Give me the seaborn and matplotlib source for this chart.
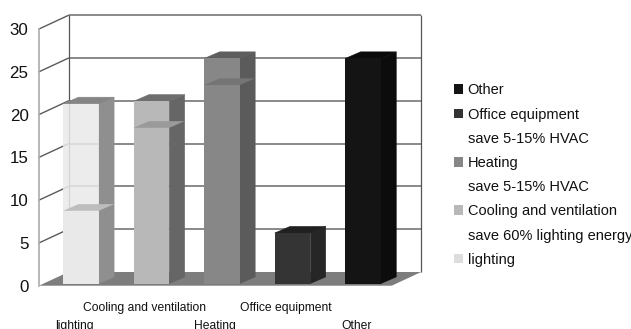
import matplotlib
matplotlib.use("Agg")
import matplotlib.pyplot as plt
import seaborn as sns
from matplotlib.patches import Patch, Polygon
from matplotlib.transforms import IdentityTransform, ScaledTranslation

# Energy end uses: bar totals and the lower level inside each bar
categories = ["lighting", "Cooling and ventilation", "Heating", "Office equipment", "Other"]
totals = [21.0, 21.3, 26.3, 5.9, 26.3]
lower_levels = [8.5, 18.2, 23.2, None, None]
value_ticks = [0, 5, 10, 15, 20, 25, 30]

# Greys for each face of the bars
front_colors = ["#e9e9e9", "#b8b8b8", "#878787", "#343434", "#141414"]
side_colors = ["#8f8f8f", "#666666", "#5b5b5b", "#262626", "#0c0c0c"]
top_colors = ["#858585", "#6e6e6e", "#5e5e5e", "#202020", "#0b0b0b"]
shelf_colors = ["#bdbdbd", "#9a9a9a", "#757575", None, None]

legend_labels = ["Other", "Office equipment", "save 5-15% HVAC", "Heating", "save 5-15% HVAC",
                 "Cooling and ventilation", "save 60% lighting energy", "lighting"]
legend_colors = ["#141414", "#343434", "#ffffff", "#878787", "#ffffff",
                 "#b8b8b8", "#ffffff", "#dddddd"]

W, H = 631, 329
WALL_DX, WALL_DY = 29.5, 13.7      # depth of the chart box, px
BAR_DX, BAR_DY = 15.3, 6.6         # depth of a bar, px
BAR_SHIFT = (6.7, 2.2)             # bars stand slightly inside the floor, px

sns.set_style("white")
plt.rcParams["font.family"] = ["Liberation Sans", "DejaVu Sans"]

fig = plt.figure(figsize=(W / 100, H / 100), dpi=100)
ax = fig.add_axes([39 / W, (H - 285.7) / H, 352.7 / W, 256.7 / H])


def shifted(dx, dy):
    return ax.transData + ScaledTranslation(dx / 100, dy / 100, fig.dpi_scale_trans)


sns.barplot(x=categories, y=totals, hue=categories, palette=front_colors, order=categories,
            hue_order=categories, width=0.505, legend=False, saturation=1, ax=ax)
upper_bars = list(ax.patches)
lower_values = [v if v is not None else 0 for v in lower_levels]
sns.barplot(x=categories, y=lower_values, hue=categories, palette=front_colors, order=categories,
            hue_order=categories, width=0.505, legend=False, saturation=1, ax=ax)
lower_bars = [p for p in ax.patches if p not in upper_bars]

ax.set_xlim(-0.5, 4.5)
ax.set_ylim(0, 30)
ax.set_yticks(value_ticks)
fig.canvas.draw()

# Chart box: floor, back wall, and the slanted lines on the side wall
x0, x1 = ax.transData.transform([(-0.5, 0), (4.5, 0)])[:, 0]
y0 = ax.transData.transform((0, 0))[1]
ax.add_patch(Polygon([(x0, y0), (x1, y0), (x1 + WALL_DX, y0 + WALL_DY), (x0 + WALL_DX, y0 + WALL_DY)],
                     closed=True, facecolor="#7d7d7d", edgecolor="none",
                     transform=IdentityTransform(), clip_on=False, zorder=1.2))
back = shifted(WALL_DX, WALL_DY)
ax.hlines(value_ticks[1:], -0.5, 4.5, colors="#6a6a6a", linewidth=1.1, transform=back,
          clip_on=False, zorder=1.4)
ax.vlines([-0.5, 4.5], 0, 30, colors="#555555", linewidth=0.9, transform=back,
          clip_on=False, zorder=1.4)
for v in value_ticks[1:]:
    yv = ax.transData.transform((0, v))[1]
    ax.plot([x0, x0 + WALL_DX], [yv, yv + WALL_DY], color="#5a5a5a", linewidth=1.0,
            transform=IdentityTransform(), clip_on=False, zorder=1.4)

# Bars: offset front faces, then the side, top and inner shelf of each one
bar_tr = shifted(*BAR_SHIFT)
for i, (up, low) in enumerate(zip(upper_bars, lower_bars)):
    for bar in (up, low):
        bar.set_transform(bar_tr)
        bar.set_clip_on(False)
        bar.set_linewidth(0)
        bar.set_zorder(3.2)
    if i == 0:
        up.set_alpha(0.86)

    (xl, yb), (xr, yt) = bar_tr.transform([(up.get_x(), 0),
                                           (up.get_x() + up.get_width(), up.get_height())])
    ax.add_patch(Polygon([(xr, yb), (xr, yt), (xr + BAR_DX, yt + BAR_DY), (xr + BAR_DX, yb + BAR_DY)],
                         closed=True, facecolor=side_colors[i], edgecolor=side_colors[i], linewidth=0.4,
                         transform=IdentityTransform(), clip_on=False, zorder=3))
    ax.add_patch(Polygon([(xl, yt), (xr, yt), (xr + BAR_DX, yt + BAR_DY), (xl + BAR_DX, yt + BAR_DY)],
                         closed=True, facecolor=top_colors[i], edgecolor=top_colors[i], linewidth=0.4,
                         transform=IdentityTransform(), clip_on=False, zorder=3))
    if lower_levels[i] is not None:
        ys = bar_tr.transform((0, lower_levels[i]))[1]
        ax.add_patch(Polygon([(xl, ys), (xr, ys), (xr + BAR_DX, ys + BAR_DY), (xl + BAR_DX, ys + BAR_DY)],
                             closed=True, facecolor=shelf_colors[i], edgecolor="none",
                             transform=IdentityTransform(), clip_on=False, zorder=4))

# Axis styling: staggered category labels and an unmarked value axis
sns.despine(ax=ax, left=False, bottom=True, right=True, top=True)
ax.spines["left"].set_color("#ababab")
ax.spines["left"].set_linewidth(1.2)
ax.spines["left"].set_zorder(1.5)
ax.patch.set_visible(False)
ax.grid(False)
ax.set_xlabel("")
ax.set_ylabel("")
ax.tick_params(axis="y", length=0, pad=7.5, labelsize=12.2, labelcolor="#111111")
ax.tick_params(axis="x", length=0, labelsize=8.7, labelcolor="#111111")
for i, tick in enumerate(ax.xaxis.get_major_ticks()):
    tick.set_pad(25 if i % 2 == 0 else 12)

handles = [Patch(facecolor=c, edgecolor="none") for c in legend_colors]
fig.legend(handles, legend_labels, loc="upper left", bbox_to_anchor=(454 / W, 1 - 83.3 / H),
           frameon=False, fontsize=10.5, handlelength=0.62, handleheight=0.62,
           handletextpad=0.32, labelspacing=0.7, borderaxespad=0, borderpad=0,
           labelcolor="#111111")

fig.savefig("out.png", dpi=100, facecolor="white")
